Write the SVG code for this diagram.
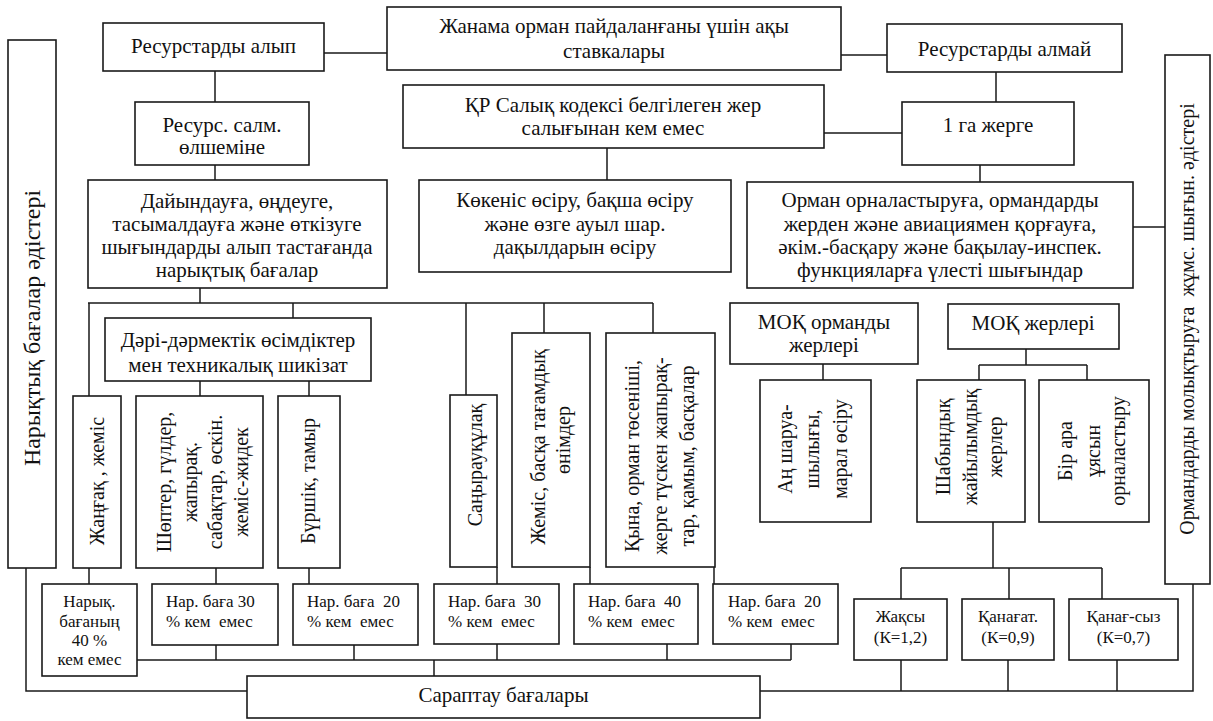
<svg xmlns="http://www.w3.org/2000/svg" width="1213" height="721" viewBox="0 0 1213 721" font-family="'Liberation Serif', 'Times New Roman', 'DejaVu Serif', serif">
<style>
.b{fill:#fff;stroke:#1a1a1a;stroke-width:1.6}
.c{stroke:#1a1a1a;stroke-width:1.5;fill:none}
text{font-family:'Liberation Serif','Times New Roman','DejaVu Serif',serif;fill:#111;white-space:pre}
.m{font-size:21px;text-anchor:middle}
.v{font-size:20px;text-anchor:middle;dominant-baseline:central}
.vl{font-size:24px;text-anchor:middle;dominant-baseline:central}
.s{font-size:17px}
.sm{font-size:17px;text-anchor:middle}
</style>
<rect width="1213" height="721" fill="#fff"/>
<g id="connectors">
<path class="c" d="M324 53H387M841 55H887M215 71V102M215 165V180M996 72V102M824 133H902M607 148V180M980 165V182M1133 227H1165"/>
<path class="c" d="M200 288V303M88 303H653M89 303V396M293 303V318M466 303V395M544 303V333M653 303V333M200 381V396M309 381V396"/>
<path class="c" d="M89 568V584M216 568V584M309 568V584M497 567V584M590 567V584M714 567V584"/>
<path class="c" d="M137 660H791M216 645V660M354 645V660M497 644V660M667 644V660M791 644V660M434 660V676"/>
<path class="c" d="M26 568V691H247M760 691H1193V584M901 660V691M1008 660V691M1117 660V691"/>
<path class="c" d="M823 364V380M1026 349V365M979 365H1087M979 365V380M1087 365V380"/>
<path class="c" d="M993 522V568M901 568H1102M901 568V599M1009 568V599M1102 568V599"/>
</g>
<g id="n-left"><rect class="b" x="8" y="40" width="48" height="528"/><text class="vl" transform="translate(32 328) rotate(-90)">Нарықтық бағалар әдістері</text></g>
<g id="n-right"><rect class="b" x="1165" y="55" width="45" height="529"/><text class="v" transform="translate(1187 319) rotate(-90)">Ормандарды молықтыруға  жұмс. шығын. әдістері</text></g>
<g id="n-alyp"><rect class="b" x="103" y="23" width="221" height="48"/><text class="m" x="213.5" y="53">Ресурстарды алып</text></g>
<g id="n-zhanama"><rect class="b" x="387" y="7" width="454" height="63"/><text class="m" x="614" y="33">Жанама орман пайдаланғаны үшін ақы</text><text class="m" x="614" y="58">ставкалары</text></g>
<g id="n-almai"><rect class="b" x="887" y="24" width="235" height="48"/><text class="m" x="1004.5" y="56">Ресурстарды алмай</text></g>
<g id="n-salm"><rect class="b" x="135" y="102" width="174" height="63"/><text class="m" x="222" y="132">Ресурс. салм.</text><text class="m" x="222" y="154">өлшеміне</text></g>
<g id="n-kr"><rect class="b" x="403" y="85" width="421" height="63"/><text class="m" x="613" y="112">ҚР Салық кодексі белгілеген жер</text><text class="m" x="613" y="135">салығынан кем емес</text></g>
<g id="n-1ga"><rect class="b" x="902" y="102" width="172" height="63"/><text class="m" x="988" y="132">1 га жерге</text></g>
<g id="n-dai"><rect class="b" x="88" y="180" width="299" height="108"/><text class="m" x="237" y="208">Дайындауға, өңдеуге,</text><text class="m" x="237" y="231">тасымалдауға және өткізуге</text><text class="m" x="237" y="254">шығындарды алып тастағанда</text><text class="m" x="237" y="277">нарықтық бағалар</text></g>
<g id="n-kok"><rect class="b" x="419" y="180" width="312" height="92"/><text class="m" x="575" y="207">Көкеніс өсіру, бақша өсіру</text><text class="m" x="575" y="231">және өзге ауыл шар.</text><text class="m" x="575" y="254">дақылдарын өсіру</text></g>
<g id="n-orman"><rect class="b" x="747" y="182" width="386" height="106"/><text class="m" x="940" y="207">Орман орналастыруға, ормандарды</text><text class="m" x="940" y="231">жерден және авиациямен қорғауға,</text><text class="m" x="940" y="254">әкім.-басқару және бақылау-инспек.</text><text class="m" x="940" y="277">функцияларға үлесті шығындар</text></g>
<g id="n-dari"><rect class="b" x="105" y="318" width="266" height="63"/><text class="m" x="238" y="347">Дәрі-дәрмектік өсімдіктер</text><text class="m" x="238" y="372">мен техникалық шикізат</text></g>
<g id="n-mok1"><rect class="b" x="730" y="303" width="188" height="61"/><text class="m" x="824" y="329">МОҚ орманды</text><text class="m" x="824" y="352">жерлері</text></g>
<g id="n-mok2"><rect class="b" x="948" y="304" width="171" height="45"/><text class="m" x="1033" y="330">МОҚ жерлері</text></g>
<g id="n-zhangak"><rect class="b" x="73" y="396" width="48" height="172"/><text class="v" transform="translate(97 481) rotate(-90)">Жаңғақ , жеміс</text></g>
<g id="n-shopter"><rect class="b" x="136" y="396" width="127" height="172"/><g transform="translate(0 482) rotate(-90)"><text class="v" y="164">Шөптер, гүлдер,</text><text class="v" y="189.5">жапырақ.</text><text class="v" y="215">сабақтар, өскін.</text><text class="v" y="240.5">жеміс-жидек</text></g></g>
<g id="n-burshik"><rect class="b" x="278" y="396" width="62" height="172"/><text class="v" transform="translate(308 481) rotate(-90)">Бүршік, тамыр</text></g>
<g id="n-sanyrau"><rect class="b" x="450" y="395" width="47" height="172"/><text class="v" transform="translate(475 465) rotate(-90)">Саңырауқұлақ</text></g>
<g id="n-zhemis"><rect class="b" x="512" y="333" width="78" height="234"/><g transform="translate(0 447) rotate(-90)"><text class="v" y="538">Жеміс, басқа тағамдық</text><text class="v" x="7" y="563">өнімдер</text></g></g>
<g id="n-kyna"><rect class="b" x="606" y="333" width="109" height="234"/><g transform="translate(0 456) rotate(-90)"><text class="v" y="632">Қына, орман төсеніші,</text><text class="v" y="660">жерге түскен жапырақ-</text><text class="v" y="687">тар, қамым, басқалар</text></g></g>
<g id="n-an"><rect class="b" x="760" y="380" width="111" height="142"/><g transform="translate(0 449) rotate(-90)"><text class="v" y="785">Аң шаруа-</text><text class="v" y="812">шылығы,</text><text class="v" y="840">марал өсіру</text></g></g>
<g id="n-shabyn"><rect class="b" x="917" y="380" width="108" height="142"/><g transform="translate(0 447) rotate(-90)"><text class="v" y="943">Шабындық</text><text class="v" y="970">жайылымдық</text><text class="v" y="995">жерлер</text></g></g>
<g id="n-bir"><rect class="b" x="1039" y="380" width="110" height="142"/><g transform="translate(0 451) rotate(-90)"><text class="v" y="1065">Бір ара</text><text class="v" y="1093">ұясын</text><text class="v" y="1118">орналастыру</text></g></g>
<g id="n-p40a"><rect class="b" x="42" y="584" width="95" height="92"/><text class="sm" x="89.5" y="607">Нарық.</text><text class="sm" x="89.5" y="627">бағаның</text><text class="sm" x="89.5" y="646">40 %</text><text class="sm" x="89.5" y="665">кем емес</text></g>
<g id="n-p30a"><rect class="b" x="152" y="584" width="126" height="61"/><text class="s" x="166" y="607">Нар. баға 30</text><text class="s" x="166" y="627">% кем  емес</text></g>
<g id="n-p20a"><rect class="b" x="293" y="584" width="125" height="61"/><text class="s" x="307" y="607">Нар. баға  20</text><text class="s" x="307" y="627">% кем  емес</text></g>
<g id="n-p30b"><rect class="b" x="434" y="584" width="125" height="60"/><text class="s" x="448" y="607">Нар. баға  30</text><text class="s" x="448" y="627">% кем  емес</text></g>
<g id="n-p40b"><rect class="b" x="574" y="584" width="124" height="60"/><text class="s" x="588" y="607">Нар. баға  40</text><text class="s" x="588" y="627">% кем  емес</text></g>
<g id="n-p20b"><rect class="b" x="713" y="584" width="125" height="60"/><text class="s" x="728" y="607">Нар. баға  20</text><text class="s" x="728" y="627">% кем  емес</text></g>
<g id="n-good"><rect class="b" x="854" y="599" width="93" height="61"/><text class="sm" x="900.5" y="622">Жақсы</text><text class="sm" x="900.5" y="643">(К=1,2)</text></g>
<g id="n-sat"><rect class="b" x="962" y="599" width="92" height="61"/><text class="sm" x="1008" y="622">Қанағат.</text><text class="sm" x="1008" y="643">(К=0,9)</text></g>
<g id="n-unsat"><rect class="b" x="1069" y="599" width="109" height="61"/><text class="sm" x="1123.5" y="622">Қанағ-сыз</text><text class="sm" x="1123.5" y="643">(К=0,7)</text></g>
<g id="n-sarap"><rect class="b" x="247" y="676" width="513" height="42"/><text class="m" x="503.5" y="702">Сараптау бағалары</text></g>
</svg>
